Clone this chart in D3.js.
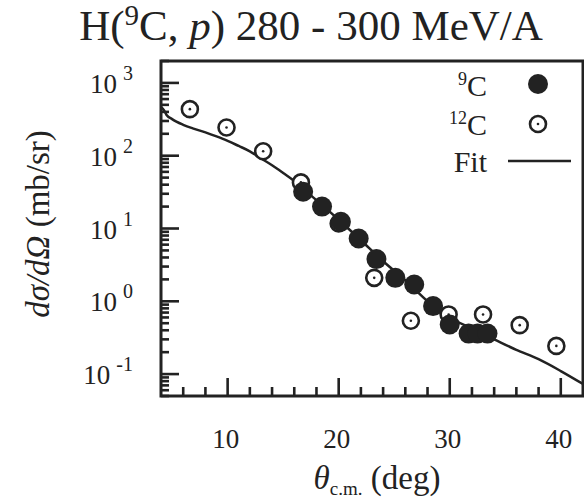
<!DOCTYPE html>
<html>
<head>
<meta charset="utf-8">
<script src="https://cdn.jsdelivr.net/npm/d3@7"></script>
<style>
  body { margin: 0; background: #fff; }
  svg text { font-family: "Liberation Serif", "Times New Roman", serif; fill: #222; }
</style>
</head>
<body>
<div id="chart"></div>
<script>
// 9C data (filled circles)
const c9Angle = [16.8, 18.5, 20.2, 21.8, 23.4, 25.1, 26.8, 28.5, 30.0, 31.7, 32.5, 33.4];
const c9Xsec  = [32, 20, 12.4, 7.3, 3.8, 2.1, 1.7, 0.86, 0.48, 0.36, 0.36, 0.36];

// 12C data (open circles)
const c12Angle = [6.6, 9.9, 13.2, 16.6, 20.0, 23.2, 26.5, 29.9, 33.0, 36.3, 39.6];
const c12Xsec  = [436, 244, 115, 43, 11.7, 2.1, 0.54, 0.66, 0.66, 0.47, 0.244];

// fit curve
const fitAngle = [4, 4.25, 4.5, 5, 6, 7, 8, 9, 10, 11, 12, 13, 14, 15, 16, 17, 18, 20, 22, 24, 26, 28, 30, 32, 34, 36, 38, 40, 42];
const fitXsec  = [470, 425, 363, 318, 266, 234, 209, 184, 160, 136, 115, 92, 74, 58, 45, 33, 24.5, 13.2, 6.9, 3.55, 1.95, 1.0, 0.6, 0.42, 0.30, 0.215, 0.16, 0.11, 0.073];

const xTicks = [10, 20, 30, 40];
const yTicks = [0.1, 1, 10, 100, 1000];
const yExp = ["-1", "0", "1", "2", "3"];

const W = 584, H = 500;
const margin = {top: 61, right: 1, bottom: 104, left: 161};
const width = W - margin.left - margin.right,
      height = H - margin.top - margin.bottom;
const ink = "#222";

const svg = d3.select("#chart").append("svg")
  .attr("width", W).attr("height", H)
  .style("font-family", "'Liberation Serif', 'Times New Roman', serif");

const x = d3.scaleLinear().domain([4, 42]).range([0, width]);
const y = d3.scaleLog().domain([0.05, 2000]).range([height, 0]);

// title
const title = svg.append("text")
  .attr("x", 311).attr("y", 40)
  .attr("text-anchor", "middle")
  .style("font-size", "43px");
title.append("tspan").text("H(");
title.append("tspan").attr("dy", -15).style("font-size", "29px").text("9");
title.append("tspan").attr("dy", 15).text("C, ");
title.append("tspan").style("font-style", "italic").text("p");
title.append("tspan").text(") 280 - 300 MeV/A");

const g = svg.append("g")
  .attr("transform", "translate(" + margin.left + "," + margin.top + ")");

g.append("clipPath").attr("id", "clip")
  .append("rect").attr("width", width).attr("height", height);

// x ticks (inward)
const xMinor = d3.range(6, 42, 2);
g.selectAll(".xt").data(xMinor).join("line")
  .attr("x1", d => x(d)).attr("x2", d => x(d))
  .attr("y1", height)
  .attr("y2", d => height - (d % 10 === 0 ? 18 : 9))
  .attr("stroke", ink).attr("stroke-width", 2.6);

g.selectAll(".xl").data(xTicks).join("text")
  .attr("x", d => x(d) - 2).attr("y", height + 52)
  .attr("text-anchor", "middle")
  .style("font-size", "27px")
  .text(d => d);

// y ticks (log, inward)
const yMinor = [];
for (let e = -2; e <= 3; e++) {
  for (let m = 1; m <= 9; m++) {
    const v = m * Math.pow(10, e);
    if (v >= 0.05 && v <= 2000) yMinor.push(v);
  }
}
g.selectAll(".yt").data(yMinor).join("line")
  .attr("x1", 0)
  .attr("x2", d => (Math.abs(Math.log10(d) % 1) < 1e-9 ? 18 : 8))
  .attr("y1", d => y(d)).attr("y2", d => y(d))
  .attr("stroke", ink).attr("stroke-width", 2.6);

const yl = g.selectAll(".yl").data(yTicks).join("text")
  .attr("x", -28).attr("y", d => y(d) + 10)
  .attr("text-anchor", "end")
  .style("font-size", "27px");
yl.append("tspan").text("10");
yl.append("tspan").attr("dx", 6).attr("dy", -13)
  .style("font-size", "20px").text((d, i) => yExp[i]);

// axis titles
const xt = svg.append("text")
  .attr("x", 377).attr("y", 489)
  .attr("text-anchor", "middle")
  .style("font-size", "33px");
xt.append("tspan").style("font-style", "italic").text("θ");
xt.append("tspan").attr("dy", 6).style("font-size", "19px").text("c.m.");
xt.append("tspan").attr("dy", -6).text(" (deg)");

const yt = svg.append("text")
  .attr("transform", "translate(49,224) rotate(-90)")
  .attr("text-anchor", "middle")
  .style("font-size", "33px");
yt.append("tspan").style("font-style", "italic").text("dσ/dΩ");
yt.append("tspan").text(" (mb/sr)");

// fit
const fit = fitAngle.map((a, i) => [a, fitXsec[i]]);
g.append("path")
  .datum(fit)
  .attr("clip-path", "url(#clip)")
  .attr("fill", "none")
  .attr("stroke", ink).attr("stroke-width", 2.5)
  .attr("d", d3.line().x(d => x(d[0])).y(d => y(d[1])).curve(d3.curveMonotoneX));

// 12C open circles
const open = g.selectAll(".o").data(c12Angle.map((a, i) => [a, c12Xsec[i]])).join("g")
  .attr("transform", d => "translate(" + x(d[0]) + "," + y(d[1]) + ")");
open.append("circle").attr("r", 8)
  .attr("fill", "#fff").attr("stroke", ink).attr("stroke-width", 2.6);
open.append("circle").attr("r", 1.3).attr("fill", ink);

// 9C filled circles
g.selectAll(".f").data(c9Angle.map((a, i) => [a, c9Xsec[i]])).join("circle")
  .attr("cx", d => x(d[0])).attr("cy", d => y(d[1]))
  .attr("r", 10).attr("fill", ink);

// frame
g.append("rect")
  .attr("width", width).attr("height", height)
  .attr("fill", "none").attr("stroke", ink).attr("stroke-width", 3);

// legend
const leg = svg.append("g");
const lt1 = leg.append("text").attr("x", 487).attr("y", 96)
  .attr("text-anchor", "end").style("font-size", "30px");
lt1.append("tspan").attr("dy", -11).style("font-size", "18px").text("9");
lt1.append("tspan").attr("dy", 11).text("C");
leg.append("circle").attr("cx", 538).attr("cy", 84).attr("r", 10).attr("fill", ink);

const lt2 = leg.append("text").attr("x", 487).attr("y", 135)
  .attr("text-anchor", "end").style("font-size", "30px");
lt2.append("tspan").attr("dy", -11).style("font-size", "18px").text("12");
lt2.append("tspan").attr("dy", 11).text("C");
leg.append("circle").attr("cx", 538).attr("cy", 124).attr("r", 8)
  .attr("fill", "#fff").attr("stroke", ink).attr("stroke-width", 2.6);
leg.append("circle").attr("cx", 538).attr("cy", 124).attr("r", 1.3).attr("fill", ink);

leg.append("text").attr("x", 487).attr("y", 172)
  .attr("text-anchor", "end").style("font-size", "30px").text("Fit");
leg.append("line").attr("x1", 508).attr("x2", 571).attr("y1", 161).attr("y2", 161)
  .attr("stroke", ink).attr("stroke-width", 2.5);
</script>
</body>
</html>
